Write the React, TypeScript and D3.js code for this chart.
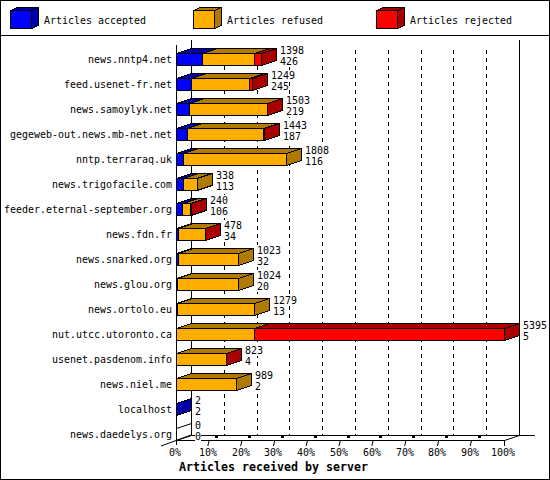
import React from 'react';
import * as d3 from 'd3';

const hosts = [
  'news.nntp4.net', 'feed.usenet-fr.net', 'news.samoylyk.net', 'gegeweb-out.news.mb-net.net',
  'nntp.terraraq.uk', 'news.trigofacile.com', 'feeder.eternal-september.org', 'news.fdn.fr',
  'news.snarked.org', 'news.glou.org', 'news.ortolo.eu', 'nut.utcc.utoronto.ca',
  'usenet.pasdenom.info', 'news.niel.me', 'localhost', 'news.daedelys.org',
];
const accepted = [426, 245, 219, 187, 116, 113, 106, 34, 32, 20, 13, 5, 4, 2, 2, 0];
const refused = [857, 951, 1280, 1252, 1692, 225, 130, 440, 991, 1004, 1266, 1283, 815, 987, 0, 0];
const rejected = [115, 53, 4, 4, 0, 0, 4, 4, 0, 0, 0, 4107, 4, 0, 0, 0];

const seriesNames = ['Articles accepted', 'Articles refused', 'Articles rejected'];
const frontColors = ['#0000ff', '#ffae00', '#ff0000'];
const darkColors = ['#0000aa', '#b07a00', '#aa0000'];
const percentTicks = d3.range(0, 101, 10);

const WIDTH = 550;
const HEIGHT = 480;
const DX = 15; // depth of the fake 3d
const DY = -5;
const BAR_H = 12;
const FONT = '"DejaVu Sans Mono", "Liberation Mono", monospace';

const totals = hosts.map((_, i) => accepted[i] + refused[i] + rejected[i]);
const x = d3.scaleLinear().domain([0, d3.max(totals) as number]).range([176.5, 504.5]);
const pct = d3.scaleLinear().domain([0, 100]).range([176.5, 504.5]);
const y = d3.scalePoint<string>().domain(hosts).range([59.5, 434.5]);

const poly = (pts: number[][]) => (d3.line()(pts as [number, number][]) as string) + 'Z';

// one face set per box, front and top and side
const Box = ({ x0, x1, top, h, dx, dy, color, dark, side }: { x0: number; x1: number; top: number; h: number; dx: number; dy: number; color: string; dark: string; side: boolean }) => {
  const bottom = top + h;
  return (
    <g stroke="#000" strokeWidth={1}>
      <path d={poly([[x0, top], [x0 + dx, top + dy], [x1 + dx, top + dy], [x1, top]])} fill={dark} />
      {side && <path d={poly([[x1, top], [x1 + dx, top + dy], [x1 + dx, bottom + dy], [x1, bottom]])} fill={dark} />}
      <rect x={x0} y={top} width={x1 - x0} height={h} fill={color} />
    </g>
  );
};

// fixed cell text, the original uses a 6px wide bitmap font
const T = ({ x: tx, y: ty, s, end, cell = 6, size = 10.5, bold }: { x: number; y: number; s: string; end?: boolean; cell?: number; size?: number; bold?: boolean }) => (
  <text
    x={Math.round(end ? tx - s.length * cell : tx)}
    y={Math.round(ty)}
    fontFamily={FONT}
    fontSize={size}
    fontWeight={bold ? 'bold' : 'normal'}
    textLength={s.length * cell}
    lengthAdjust="spacingAndGlyphs"
  >
    {s}
  </text>
);

// value label, white box behind it hides the grid
const ValueLabel = ({ x: tx, y: ty, s }: { x: number; y: number; s: string }) => (
  <g>
    <rect x={Math.round(tx)} y={Math.round(ty) - 9} width={s.length * 6} height={11} fill="#fff" />
    <T x={tx} y={ty} s={s} />
  </g>
);

const App = () => {
  const rows = hosts.map((host, i) => {
    const values = [accepted[i], refused[i], rejected[i]];
    const last = values.reduce((acc, v, k) => (v > 0 ? k : acc), -1);
    let sum = 0;
    const segs = values.map((v, k) => {
      const s = { k, x0: x(sum), x1: x(sum + v), v };
      sum += v;
      return s;
    });
    return { host, i, segs, last, top: (y(host) as number) - BAR_H / 2 };
  });

  return (
    <svg width={WIDTH} height={HEIGHT} style={{ display: 'block', background: '#fff' }} shapeRendering="crispEdges">
      <style>{'body{margin:0}'}</style>
      <rect x={0.5} y={0.5} width={WIDTH - 1} height={HEIGHT - 1} fill="#fff" stroke="#000" />
      <line x1={0} x2={WIDTH} y1={35.5} y2={35.5} stroke="#000" />

      {/* legend */}
      {seriesNames.map((name, k) => {
        const lx = [10, 193, 376][k];
        return <Box key={name} x0={lx + 0.5} x1={lx + 21.5} top={10.5} h={18} dx={7} dy={-3} color={frontColors[k]} dark={darkColors[k]} side />;
      })}

      {/* back grid */}
      {percentTicks.slice(1, 10).map(t => (
        <line key={t} x1={pct(t) + DX} x2={pct(t) + DX} y1={50} y2={435} stroke="#000" strokeDasharray="4 4" />
      ))}
      <line x1={191.5} x2={191.5} y1={40} y2={435} stroke="#000" />
      <line x1={519.5} x2={519.5} y1={40} y2={435} stroke="#000" />
      <line x1={191} x2={535} y1={435.5} y2={435.5} stroke="#000" />

      {/* bars */}
      {rows.map(r => (
        <g key={r.host}>
          {r.last < 0 && (
            <path d={poly([[176.5, r.top], [176.5 + DX, r.top + DY], [176.5 + DX, r.top + BAR_H + DY], [176.5, r.top + BAR_H]])} fill="#fff" stroke="#000" shapeRendering="auto" />
          )}
          {r.segs.filter(s => s.v > 0).map(s => (
            <Box key={s.k} x0={s.x0} x1={s.x1} top={r.top} h={BAR_H} dx={DX} dy={DY} color={frontColors[s.k]} dark={darkColors[s.k]} side={s.k === r.last} />
          ))}
        </g>
      ))}

      {/* front axis */}
      <line x1={176.5} x2={176.5} y1={45} y2={445} stroke="#000" />
      <line x1={176} x2={505} y1={440.5} y2={440.5} stroke="#000" />
      <line x1={161} x2={191} y1={446} y2={435} stroke="#000" shapeRendering="auto" />
      <line x1={504.5} x2={519.5} y1={440.5} y2={435.5} stroke="#000" shapeRendering="auto" />
      <line x1={504.5} x2={504.5} y1={440} y2={446} stroke="#000" />
      {percentTicks.slice(1, 10).map(t => (
        <g key={t}>
          <line x1={pct(t) - 1.5} x2={pct(t)} y1={446} y2={440} stroke="#000" shapeRendering="auto" />
          <rect x={pct(t) + 6} y={436} width={3} height={2} fill="#000" />
        </g>
      ))}

      {seriesNames.map((name, k) => (
        <T key={name} x={[44, 227, 410][k]} y={24} s={name} />
      ))}
      {rows.map(r => (
        <g key={r.host}>
          <T x={172} y={(y(r.host) as number) + 3.4} s={r.host} end />
          <ValueLabel x={x(totals[r.i]) + DX + 3.5} y={r.top + 0.5} s={String(totals[r.i])} />
          <ValueLabel x={x(totals[r.i]) + DX + 3.5} y={r.top + 11.5} s={String(accepted[r.i])} />
        </g>
      ))}
      {percentTicks.map(t => {
        const label = `${t}%`;
        return <T key={t} x={pct(t) - 1.5 - (label.length * 6) / 2} y={456} s={label} />;
      })}
      <T x={179} y={471} s="Articles received by server" cell={7} size={12} bold />
    </svg>
  );
};

export default App;
